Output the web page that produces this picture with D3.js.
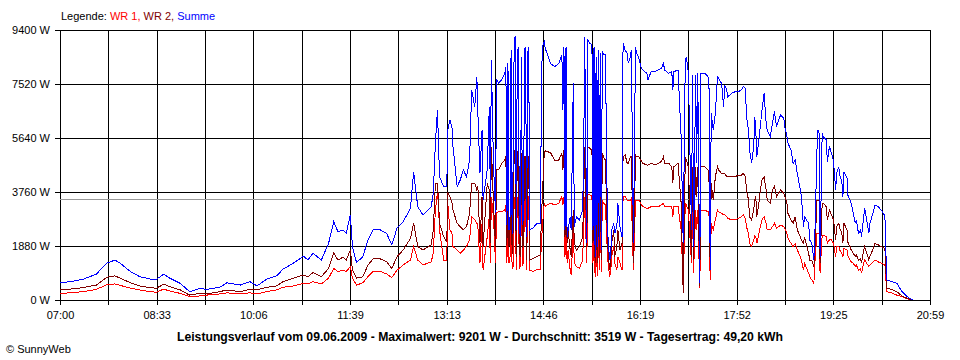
<!DOCTYPE html>
<html>
<head>
<meta charset="utf-8">
<script src="https://cdn.jsdelivr.net/npm/d3@7"></script>
<style>
  body { margin: 0; background: #fff; }
  svg { display: block; font-family: "Liberation Sans", Arial, sans-serif; }
</style>
</head>
<body>
<script>
// minutes after 07:00
var minutes = [0,10,22,35,45,53,58,68,77,87,93,100,106,116,125,135,141,154,161,174,
  183,190,199,209,215,225,235,239,244,252,259,264,268,273,276,280,282,286,292,297,
  302,309,315,320,325,331,338,341,345,350,358,360,362,364,365,366,370,373,374,376,
  378,379,383,386,389,392,395,397,400,402,403,405,407,408,412,414,415,416,418,420,
  421,423,426,429,430,431,432,433,434,435,436,437,438,439,440,441,442,443,444,445,446,447,448,449,450,451,452,453,456,
  460,463,465,467,468,473,477,481,484,485,486,487,488,489,490,492,493,495,496,498,
  501,504,505,506,508,509,511,513,514,515,516,517,518,519,520,521,522,523,524,526,
  528,530,531,532,534,535,537,538,540,542,543,545,547,548,550,551,553,555,556,558,
  560,562,566,567,570,574,577,580,582,583,587,590,591,592,596,599,601,603,604,606,
  609,610,611,613,614,615,617,618,622,625,626,627,628,630,632,634,635,638,640,641,
  643,644,648,651,654,657,659,661,662,664,665,667,669,670,671,672,674,675,677,679,
  681,682,685,687,689,691,693,695,698,699,701,702,705,707,709,711,714,715,717,718,
  722,723,725,727,728,730,731,732,733,735,736,739,740,742,744,746,748,749,751,752,
  754,755,756,759,760,762,763,765,767,768,770,772,773,775,776,778,780,781,783,786,
  789,792,795,796,797,802,807,812,817,821,823];

var summe = [600,640,720,900,1280,1390,1280,990,810,730,720,900,760,580,290,410,370,440,600,520,
  640,490,720,840,1070,1280,1530,1390,1630,1390,1970,2730,2380,2440,2320,2960,1860,1300,1510,2090,
  2440,2440,2320,1920,2500,2730,3190,4460,3250,2960,3250,3720,5460,6620,5470,4290,3950,3950,5920,6270,
  6030,5340,3950,4180,4530,4290,4870,7310,6730,7770,6500,4410,5920,3480,4530,6730,3600,8360,4770,3030,
  7660,7560,7660,7890,8100,2600,8240,2440,2900,8700,2300,4770,8900,9201,2440,8600,8820,2500,2200,8470,2600,2900,8700,8820,2200,8600,8820,2440,2500,
  2670,2650,8820,8990,8760,8240,8120,8240,8530,6620,8820,2440,8820,2200,2440,2900,2440,7540,2550,2900,
  2790,3130,4870,9170,1970,9050,8940,8880,2440,8820,1510,8470,1860,8700,2090,8600,1740,8680,8530,8530,
  2440,1390,1510,2440,2670,2320,2550,3370,2550,2200,8940,8700,8590,8240,8470,8700,1970,8820,8590,8470,
  8120,8010,7890,7660,7950,7950,8010,8070,8240,8010,7890,7950,7310,7950,8010,5690,1990,8360,8470,7890,
  2440,7830,1860,7830,4770,7890,590,7890,7890,7770,7310,1040,6500,5920,6500,7770,7720,7540,6730,7490,
  7310,7080,7200,7250,7250,7310,7430,7370,6380,5920,5220,4760,5340,6370,5920,4990,5570,5920,6620,7200,
  6150,5920,5690,6150,6560,6030,6270,6440,6330,6030,5690,5460,5220,4760,4870,4410,3830,3600,2550,2900,
  2670,2090,1970,1390,2320,5220,5920,5800,1510,5800,5690,5570,4820,5340,5110,4820,3830,4410,4640,4350,
  4120,3600,4470,4240,3600,3480,3370,3020,2670,2790,2320,2440,2200,2900,3190,2790,2320,2670,2900,3310,
  3250,3130,2960,2670,700,640,580,290,120,20,0];

var wr2 = [370,380,430,520,790,840,760,600,490,430,410,550,460,350,170,230,210,290,350,290,
  370,350,440,490,640,760,870,810,950,810,1100,1630,1390,1490,1390,1740,1040,760,810,1220,
  1430,1430,1330,1100,1510,1740,2150,2680,1860,1740,1920,2440,4060,4070,3480,2680,2200,2030,3720,3600,
  3380,3130,2670,2550,2440,2550,3020,4060,4070,3830,3950,1970,3600,1860,4060,3830,1990,5340,3380,1860,
  4530,4530,4760,4870,5000,1900,5120,1860,2440,4990,1600,2440,5200,5220,1510,5100,5220,1700,1510,5110,1800,1970,5000,4990,1390,5000,4990,1390,1450,
  1510,1570,3480,5120,5190,5130,4870,4870,5110,4530,5220,2200,5220,1990,2440,1740,1510,3130,1990,1740,
  1860,2200,3600,5340,1860,5340,5280,5220,1990,5120,1280,4990,1290,5010,1530,5120,1390,5110,4990,4870,
  1990,1040,1290,1970,2440,1510,1860,2440,1740,1970,4990,5050,4760,4760,4990,4990,1280,5050,4990,4990,
  4870,4760,4700,4700,4760,4700,4760,4820,4990,4760,4760,4640,4070,4640,4760,3380,230,4990,4870,4640,
  1510,4640,1390,4640,3600,4640,500,4640,4640,4530,4060,1040,4060,3480,4290,4640,4530,4410,4410,4410,
  4290,4290,4290,4290,4350,4350,4410,4290,3830,3480,2900,2790,3130,3480,3600,2900,3370,3720,4180,4290,
  3830,3480,3370,3830,3950,3600,3720,3830,3720,3600,3370,3020,2790,2670,2900,2440,2200,2090,1970,2200,
  1630,1390,1390,1160,1740,3480,3480,3480,1280,3370,3370,3250,2790,3130,2960,2790,2090,2550,2670,2500,
  2320,1990,2670,2440,1970,1860,1740,1630,1510,1570,1390,1450,1280,1740,1860,1630,1390,1510,1680,1970,
  1920,1860,1800,1630,410,370,290,140,60,10,0];

var wr1 = [230,250,290,370,530,560,510,410,350,290,270,380,310,230,120,140,170,210,250,210,
  250,210,290,350,440,490,580,560,640,560,760,1100,990,1040,990,1160,760,520,600,810,
  990,990,910,780,1040,1220,1390,1860,1390,1220,1330,1630,3130,3730,3310,2440,1390,1390,3370,2440,
  2330,1860,1740,1630,1740,1860,2090,2900,2790,2680,2550,1280,2680,1040,2200,2900,1290,3600,2900,1280,
  3030,3070,3070,3130,3300,1300,3380,1280,1510,3480,1100,1160,3550,3600,1040,3500,3600,1100,1160,3480,1200,1280,3500,3600,1040,3500,3600,1040,990,
  1070,1070,2440,3380,3270,3370,3310,3370,3600,3310,3600,1510,3600,1290,1740,1040,870,2440,1290,1160,
  1100,1390,2500,3600,1280,3660,3660,3620,1290,3480,810,3380,840,3380,1040,3480,980,3480,3370,3310,
  1510,810,940,1510,1860,1280,1040,1510,1280,1040,3600,3600,3480,3480,3480,3540,1040,3480,3480,3480,
  3370,3250,3190,3190,3250,3250,3250,3310,3370,3250,3250,3250,2900,3250,3250,2440,460,3370,3310,3130,
  1280,3130,940,3130,2440,3130,420,3130,3130,3070,2900,700,2670,2440,2790,3130,3070,3020,2960,2960,
  2900,2840,2790,2790,2840,2900,2960,2840,2550,2320,1970,1860,2090,2230,2200,1970,2320,2500,2790,2900,
  2670,2440,2440,2550,2670,2500,2550,2610,2550,2500,2320,2150,1970,1860,1970,1740,1510,1390,1040,1280,
  930,810,700,580,1280,2320,2320,2320,930,2260,2260,2200,1970,2090,2090,1970,1510,1860,1860,1740,
  1630,1510,1800,1740,1510,1390,1330,1280,1160,1220,1040,1100,930,1280,1390,1280,1160,1220,1280,1390,
  1330,1280,1220,1160,290,250,170,120,40,10,0];

var yTicks = [0, 1880, 3760, 5640, 7520, 9400];
var xLabels = ["07:00", "08:33", "10:06", "11:39", "13:13", "14:46", "16:19", "17:52", "19:25", "20:59"];
var average = 3519;
var title = "Leistungsverlauf vom 09.06.2009 - Maximalwert: 9201 W - Durchschnitt: 3519 W - Tagesertrag: 49,20 kWh";

var svgWidth = 960, svgHeight = 360;
var chartMargin = { top: 30, left: 60 };
var chartWidth = 870, chartHeight = 270;

var svg = d3.select("body").append("svg")
  .attr("width", svgWidth)
  .attr("height", svgHeight);

var chartGroup = svg.append("g")
  .attr("transform", `translate(${chartMargin.left}, ${chartMargin.top})`);

var xScale = d3.scaleLinear().domain([0, 839]).range([0, chartWidth]);
var yScale = d3.scaleLinear().domain([0, 9400]).range([chartHeight, 0]);

var xTickValues = d3.range(19).map(i => i * 839 / 18);

// grid
chartGroup.append("g").selectAll("line.v")
  .data(xTickValues).enter().append("line")
  .attr("x1", d => Math.round(xScale(d)) + 0.5).attr("x2", d => Math.round(xScale(d)) + 0.5)
  .attr("y1", 0).attr("y2", chartHeight)
  .attr("stroke", "#000").attr("shape-rendering", "crispEdges");

chartGroup.append("g").selectAll("line.h")
  .data(yTicks).enter().append("line")
  .attr("x1", 0).attr("x2", chartWidth)
  .attr("y1", d => Math.round(yScale(d)) + 0.5).attr("y2", d => Math.round(yScale(d)) + 0.5)
  .attr("stroke", "#000").attr("shape-rendering", "crispEdges");

// axes
var bottomAxis = d3.axisBottom(xScale)
  .tickValues(xTickValues)
  .tickSizeInner(5).tickSizeOuter(0).tickPadding(6)
  .tickFormat((d, i) => i % 2 == 0 ? xLabels[i / 2] : "");
var leftAxis = d3.axisLeft(yScale)
  .tickValues(yTicks)
  .tickSizeInner(5).tickSizeOuter(0).tickPadding(5)
  .tickFormat(d => d + " W");

var gx = chartGroup.append("g")
  .attr("transform", `translate(0, ${Math.round(yScale(0))})`)
  .call(bottomAxis);
var gy = chartGroup.append("g").call(leftAxis);

[gx, gy].forEach(g => {
  g.selectAll("line, path").attr("stroke", "#000").attr("shape-rendering", "crispEdges");
  g.selectAll("text").attr("fill", "#000").attr("font-size", "11px")
    .attr("font-family", "'Liberation Sans', Arial, sans-serif");
});

// average line
chartGroup.append("line")
  .attr("x1", 0).attr("x2", chartWidth)
  .attr("y1", Math.round(yScale(average)) + 0.5).attr("y2", Math.round(yScale(average)) + 0.5)
  .attr("stroke", "#999").attr("shape-rendering", "crispEdges");

// series
var series = [
  { values: wr1, color: "#ff0000" },
  { values: wr2, color: "#800000" },
  { values: summe, color: "#0000ff" }
];

var line = d3.line()
  .x((d, i) => xScale(minutes[i]))
  .y(d => yScale(d));

series.forEach(s => {
  chartGroup.append("path")
    .datum(s.values)
    .attr("d", line)
    .attr("fill", "none")
    .attr("stroke", s.color)
    .attr("stroke-width", 1)
    .attr("shape-rendering", "crispEdges");
});

// legend
var legend = svg.append("text")
  .attr("x", 61).attr("y", 20)
  .attr("font-size", "11px");
legend.append("tspan").attr("fill", "#000").text("Legende: ");
legend.append("tspan").attr("fill", "#ff0000").text("WR 1, ");
legend.append("tspan").attr("fill", "#800000").text("WR 2, ");
legend.append("tspan").attr("fill", "#0000ff").text("Summe");

// title
svg.append("text")
  .attr("x", 480).attr("y", 341)
  .attr("text-anchor", "middle")
  .attr("font-size", "12px")
  .attr("font-weight", "bold")
  .attr("textLength", 606)
  .attr("lengthAdjust", "spacingAndGlyphs")
  .text(title);

svg.append("text")
  .attr("x", 6).attr("y", 353)
  .attr("font-size", "11px")
  .text("\u00A9 SunnyWeb");
</script>
</body>
</html>
